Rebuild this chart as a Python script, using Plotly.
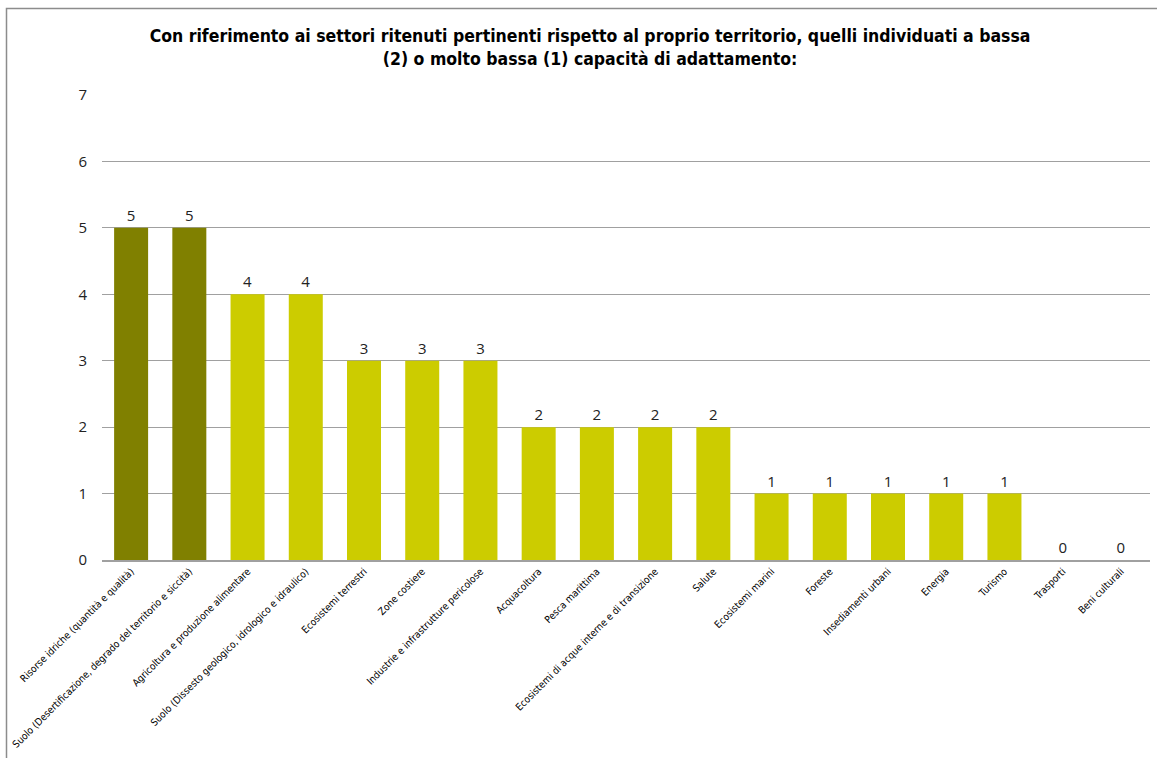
import plotly.graph_objects as go

categories = [
    "Risorse idriche (quantità e qualità)",
    "Suolo (Desertificazione, degrado del territorio e siccità)",
    "Agricoltura e produzione alimentare",
    "Suolo (Dissesto geologico, idrologico e idraulico)",
    "Ecosistemi terrestri",
    "Zone costiere",
    "Industrie e infrastrutture pericolose",
    "Acquacoltura",
    "Pesca marittima",
    "Ecosistemi di acque interne e di transizione",
    "Salute",
    "Ecosistemi marini",
    "Foreste",
    "Insediamenti urbani",
    "Energia",
    "Turismo",
    "Trasporti",
    "Beni culturali",
]
values = [5, 5, 4, 4, 3, 3, 3, 2, 2, 2, 2, 1, 1, 1, 1, 1, 0, 0]
bar_colors = ["#808000", "#808000"] + ["#CCCC00"] * 16

title_text = ("Con riferimento ai settori ritenuti pertinenti rispetto al proprio territorio, quelli individuati a bassa"
              "<br>(2) o molto bassa (1) capacità di adattamento:")

font_family = "Liberation Sans Narrow, Arial Narrow, DejaVu Sans Condensed, sans-serif"

fig = go.Figure(
    go.Bar(
        x=categories,
        y=values,
        marker=dict(color=bar_colors, line=dict(width=0)),
        text=[str(v) for v in values],
        textposition="outside",
        cliponaxis=False,
        textfont=dict(size=15, color="#222222", family="Open Sans, sans-serif"),
    )
)

fig.update_layout(
    width=1157,
    height=758,
    margin=dict(l=102, r=7, t=95, b=198),
    paper_bgcolor="white",
    plot_bgcolor="white",
    bargap=0.416,
    showlegend=False,
    title=dict(
        text="<b>" + title_text + "</b>",
        x=0.51,
        xanchor="center",
        y=0.944,
        yanchor="top",
        font=dict(size=17.5, color="#000000", family=font_family),
    ),
    xaxis=dict(
        tickangle=-45,
        tickfont=dict(size=10, color="#000000", family=font_family),
        showline=True,
        linecolor="#a0a0a0",
        linewidth=1.5,
        ticks="",
        showgrid=False,
        automargin=False,
    ),
    yaxis=dict(
        range=[0, 7],
        dtick=1,
        tickfont=dict(size=15, color="#222222", family="Open Sans, sans-serif"),
        showgrid=True,
        gridcolor="#a0a0a0",
        gridwidth=1,
        zeroline=False,
        ticks="",
        ticklabelstandoff=14,
        automargin=False,
    ),
    shapes=[
        dict(
            type="rect",
            xref="paper",
            yref="paper",
            x0=(6.5 - 102) / 1048,
            x1=1.2,
            y0=-0.6,
            y1=(560 - 8.5) / 465,
            line=dict(color="#8c8c8c", width=1.5),
            fillcolor="rgba(0,0,0,0)",
        )
    ],
)

fig.write_html("out.html")
